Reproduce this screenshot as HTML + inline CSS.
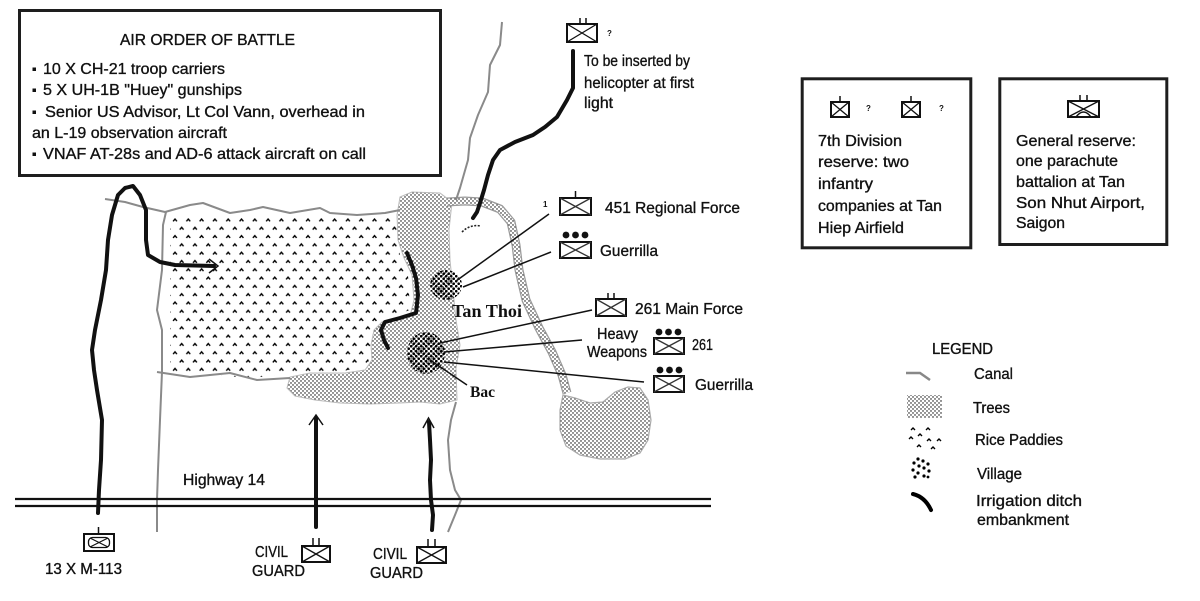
<!DOCTYPE html>
<html><head><meta charset="utf-8">
<style>
html,body{margin:0;padding:0;background:#fff;}
svg{display:block;}
text{font-family:"Liberation Sans",Arial,sans-serif;font-size:15.5px;fill:#111;stroke:#111;stroke-width:0.35px;}
.t16{font-size:16px;}
.serif{font-family:"Liberation Serif",serif;font-weight:bold;stroke-width:0;}
.sm{font-size:8px;font-weight:bold;stroke-width:0;}
</style></head><body>
<svg width="1200" height="601" viewBox="0 0 1200 601" xmlns="http://www.w3.org/2000/svg">
<defs>
<pattern id="trees" patternUnits="userSpaceOnUse" width="4" height="4">
 <circle cx="1" cy="1" r="0.72" fill="#000"/>
 <circle cx="3" cy="3" r="0.72" fill="#000"/>
</pattern>
<pattern id="rice" patternUnits="userSpaceOnUse" x="172" y="216" width="13.3" height="16.6">
 <path d="M1.1,5.3 L3,3.1 L4.9,5.3 M7.75,13.6 L9.65,11.4 L11.55,13.6" fill="none" stroke="#000" stroke-width="1.45"/>
</pattern>
<pattern id="vil" patternUnits="userSpaceOnUse" width="5" height="5">
 <circle cx="1.2" cy="1.2" r="1.3" fill="#000"/>
 <circle cx="3.7" cy="3.7" r="1.3" fill="#000"/>
</pattern>
</defs>

<!-- ===== Top-left box ===== -->
<rect x="19.5" y="10.5" width="421" height="165" fill="none" stroke="#1e1e1e" stroke-width="3"/>
<text class="t16" x="120" y="45" textLength="175" lengthAdjust="spacingAndGlyphs">AIR ORDER OF BATTLE</text>
<rect x="32.5" y="67.5" width="3.5" height="3.5" fill="#111"/>
<text class="t16" x="43" y="74" textLength="182" lengthAdjust="spacingAndGlyphs">10 X CH-21 troop carriers</text>
<rect x="32.5" y="88.5" width="3.5" height="3.5" fill="#111"/>
<text class="t16" x="43" y="95" textLength="199" lengthAdjust="spacingAndGlyphs">5 X UH-1B "Huey" gunships</text>
<rect x="32.5" y="110.5" width="3.5" height="3.5" fill="#111"/>
<text class="t16" x="45" y="117" textLength="320" lengthAdjust="spacingAndGlyphs">Senior US Advisor, Lt Col Vann, overhead in</text>
<text class="t16" x="32" y="138" textLength="195" lengthAdjust="spacingAndGlyphs">an L-19 observation aircraft</text>
<rect x="32.5" y="152.5" width="3.5" height="3.5" fill="#111"/>
<text class="t16" x="43" y="159" textLength="323" lengthAdjust="spacingAndGlyphs">VNAF AT-28s and AD-6 attack aircraft on call</text>

<!-- ===== Right boxes ===== -->
<rect x="802.2" y="78.8" width="168.6" height="169" fill="none" stroke="#1e1e1e" stroke-width="3"/>
<g stroke="#111" fill="none">
 <rect x="831" y="102" width="18" height="15" stroke-width="2"/>
 <path d="M831,102 L849,117 M849,102 L831,117" stroke-width="1.3"/>
 <line x1="840" y1="96" x2="840" y2="102" stroke-width="1.5"/>
 <rect x="902" y="102" width="18" height="15" stroke-width="2"/>
 <path d="M902,102 L920,117 M920,102 L902,117" stroke-width="1.3"/>
 <line x1="911" y1="96" x2="911" y2="102" stroke-width="1.5"/>
</g>
<text class="sm" x="866" y="111">?</text>
<text class="sm" x="939" y="111">?</text>
<text x="818" y="146" textLength="84" lengthAdjust="spacingAndGlyphs">7th Division</text>
<text x="818" y="167" textLength="91" lengthAdjust="spacingAndGlyphs">reserve: two</text>
<text x="818" y="189" textLength="55" lengthAdjust="spacingAndGlyphs">infantry</text>
<text x="818" y="211" textLength="124" lengthAdjust="spacingAndGlyphs">companies at Tan</text>
<text x="818" y="233" textLength="86" lengthAdjust="spacingAndGlyphs">Hiep Airfield</text>

<rect x="999.8" y="78.8" width="167" height="165.7" fill="none" stroke="#1e1e1e" stroke-width="3"/>
<g stroke="#111" fill="none">
 <rect x="1068" y="101" width="31" height="16" stroke-width="2"/>
 <path d="M1068,101 L1099,117 M1099,101 L1068,117" stroke-width="1.3"/>
 <path d="M1076,117 Q1083.5,107 1091,117" stroke-width="1.5"/>
 <line x1="1080" y1="95" x2="1080" y2="101" stroke-width="1.5"/>
 <line x1="1087" y1="95" x2="1087" y2="101" stroke-width="1.5"/>
</g>
<text x="1016" y="146" textLength="120" lengthAdjust="spacingAndGlyphs">General reserve:</text>
<text x="1016" y="166" textLength="102" lengthAdjust="spacingAndGlyphs">one parachute</text>
<text x="1016" y="187" textLength="109" lengthAdjust="spacingAndGlyphs">battalion at Tan</text>
<text x="1016" y="208" textLength="129" lengthAdjust="spacingAndGlyphs">Son Nhut Airport,</text>
<text x="1016" y="228" textLength="49" lengthAdjust="spacingAndGlyphs">Saigon</text>

<!-- ===== Legend ===== -->
<text x="932" y="354" textLength="61" lengthAdjust="spacingAndGlyphs">LEGEND</text>
<path d="M906,373 L920,373 L930,380" fill="none" stroke="#888" stroke-width="2.5"/>
<text x="974" y="379" textLength="39" lengthAdjust="spacingAndGlyphs">Canal</text>
<rect x="907" y="395" width="35" height="23" fill="url(#trees)"/>
<text x="973" y="413" textLength="37" lengthAdjust="spacingAndGlyphs">Trees</text>
<g fill="none" stroke="#000" stroke-width="1.4">
 <path d="M911,430 L913,428 L915,430 M926,430 L928,428 L930,430 M909,439 L911,437 L913,439 M918,436 L920,434 L922,436 M927,441 L929,439 L931,441 M937,441 L939,439 L941,441 M917,447 L919,445 L921,447 M931,449 L933,447 L935,449"/>
</g>
<text x="975" y="445" textLength="88" lengthAdjust="spacingAndGlyphs">Rice Paddies</text>
<g fill="#000">
 <circle cx="918" cy="459" r="1.6"/><circle cx="923" cy="461" r="1.6"/>
 <circle cx="914" cy="463" r="1.6"/><circle cx="928" cy="464" r="1.6"/>
 <circle cx="919" cy="466" r="1.6"/><circle cx="924" cy="468" r="1.6"/>
 <circle cx="913" cy="470" r="1.6"/><circle cx="929" cy="471" r="1.6"/>
 <circle cx="918" cy="473" r="1.6"/><circle cx="924" cy="476" r="1.6"/>
 <circle cx="915" cy="477" r="1.6"/><circle cx="928" cy="477" r="1.4"/>
</g>
<text x="977" y="479" textLength="45" lengthAdjust="spacingAndGlyphs">Village</text>
<path d="M913,494 Q925,497 931,510" fill="none" stroke="#000" stroke-width="4" stroke-linecap="round"/>
<text x="976" y="506" textLength="106" lengthAdjust="spacingAndGlyphs">Irrigation ditch</text>
<text x="977" y="525" textLength="92" lengthAdjust="spacingAndGlyphs">embankment</text>

<!-- ===== Map: rice paddies ===== -->
<path d="M170,218 L395,218 L400,255 L408,275 L410,310 L380,320 L372,335 L368,365 L340,372 L290,374 L250,378 L200,374 L170,372 Z" fill="url(#rice)"/>

<!-- trees main -->
<path d="M400,197 L412,192 L440,193 L452,202 L449,230 L450,260 L453,290 L456,320 L460,345 L456,368 L457,400 L440,404 L420,402 L400,403 L370,404 L340,403 L315,400 L295,396 L287,388 L290,377 L310,373 L345,373 L365,370 L372,360 L371,345 L374,330 L382,322 L410,316 L414,300 L412,275 L404,258 L398,240 L397,215 Z" fill="url(#trees)" stroke="#bbb" stroke-width="1"/>

<!-- dotted canal band -->
<path d="M447,202 L465,201 L482,202 L500,209 L511,222 L516,245 L519,270 L526,300 L539,328 L552,352 L562,375 L567,393" stroke="#9a9a9a" stroke-width="9" fill="none" stroke-linejoin="round"/>
<path d="M447,202 L465,201 L482,202 L500,209 L511,222 L516,245 L519,270 L526,300 L539,328 L552,352 L562,375 L567,393" stroke="#fff" stroke-width="6.5" fill="none" stroke-linejoin="round"/>
<path d="M447,202 L465,201 L482,202 L500,209 L511,222 L516,245 L519,270 L526,300 L539,328 L552,352 L562,375 L567,393" stroke="url(#trees)" stroke-width="6.5" fill="none" stroke-linejoin="round"/>

<!-- blob -->
<path d="M563,395 L575,398 L590,403 L603,402 L615,392 L628,387 L640,388 L648,400 L651,420 L648,440 L640,453 L625,459 L600,459 L580,455 L566,446 L560,430 L560,410 Z" fill="url(#trees)" stroke="#aaa" stroke-width="1.2"/>

<!-- gray canals -->
<g fill="none" stroke="#8a8a8a" stroke-width="2" stroke-linejoin="round">
 <path d="M105,199 L125,202 L143,207 L165,212 L190,205 L203,203 L230,213 L250,210 L263,207 L290,213 L320,208 L330,213 L357,215 L385,213 L400,210"/>
 <path d="M166,212 L163,225 L162,270 L157,310 L162,330 L162,372 L160,420 L158,470 L157,500 L157,532"/>
 <path d="M157,372 L190,377 L230,373 L257,380 L290,378"/>
 <path d="M502,22 L500,45 L490,65 L488,92 L478,115 L470,138 L468,160 L460,188 L456,200"/>
 <path d="M456,402 L451,420 L448,440 L450,470 L455,490 L461,500 L455,515 L448,532"/>
</g>

<!-- villages -->
<ellipse cx="446" cy="285" rx="16" ry="15" fill="url(#vil)"/>
<ellipse cx="426" cy="353" rx="19" ry="21" fill="url(#vil)"/>

<!-- thick routes -->
<g fill="none" stroke="#111" stroke-width="4" stroke-linejoin="round" stroke-linecap="round">
 <path d="M98,513 L99,490 L101,460 L102,420 L97,390 L94,370 L92,350 L95,330 L101,300 L106,270 L108,240 L112,215 L118,195 L125,188 L133,186 L140,195 L146,210 L146,240 L148,255 L160,262 L175,265 L214,266"/>
 <path d="M407,253 L412,265 L416,278 L418,295 L416,313 L400,318 L385,322 L381,330 L384,340 L388,348"/>
 <path d="M573,51 L573,88 L567,100 L557,117 L545,127 L533,135 L515,142 L500,150 L493,160 L488,175 L484,190 L480,203 L477,212 L473,218"/>
 <path d="M316,527 L316,418"/>
 <path d="M432,530 L433,515 L431,500 L430,480 L431,460 L430,440 L429,422"/>
</g>
<path d="M462,232 Q470,224 481,226" fill="none" stroke="#222" stroke-width="1.6" stroke-dasharray="2,1.5"/>
<g fill="none" stroke="#111" stroke-width="1.5">
 <path d="M209,259 L218,266 L209,273"/>
 <path d="M309,425 L316,415 L323,425"/>
 <path d="M423,428 L428.5,418 L434,428"/>
</g>

<!-- highway -->
<line x1="15" y1="499" x2="711" y2="499" stroke="#111" stroke-width="2.2"/>
<line x1="15" y1="506" x2="711" y2="506" stroke="#111" stroke-width="2.2"/>
<text x="183" y="485" textLength="82" lengthAdjust="spacingAndGlyphs">Highway 14</text>

<!-- leader lines -->
<g stroke="#111" stroke-width="1.5" fill="none">
 <line x1="456" y1="281" x2="549" y2="214"/>
 <line x1="463" y1="287" x2="551" y2="252"/>
 <line x1="440" y1="343" x2="592" y2="310"/>
 <line x1="444" y1="352" x2="582" y2="340"/>
 <line x1="444" y1="362" x2="644" y2="382"/>
 <line x1="430" y1="360" x2="467" y2="385"/>
</g>

<!-- units on map -->
<g stroke="#111" fill="none">
 <rect x="567" y="24" width="30" height="18" stroke-width="2"/>
 <path d="M567,24 L597,42 M597,24 L567,42" stroke-width="1.3"/>
 <line x1="580" y1="18" x2="580" y2="24" stroke-width="1.5"/>
 <line x1="586" y1="18" x2="586" y2="24" stroke-width="1.5"/>
 <rect x="560" y="198" width="31" height="17" stroke-width="2"/>
 <path d="M560,198 L591,215 M591,198 L560,215" stroke-width="1.3" stroke="#333"/>
 <line x1="575.5" y1="191" x2="575.5" y2="198" stroke-width="1.5"/>
 <rect x="560" y="242" width="31" height="16" stroke-width="2"/>
 <path d="M560,242 L591,258 M591,242 L560,258" stroke-width="1.3" stroke="#333"/>
 <rect x="596" y="299" width="30" height="17" stroke-width="2"/>
 <path d="M596,299 L626,316 M626,299 L596,316" stroke-width="1.3" stroke="#333"/>
 <line x1="608" y1="293" x2="608" y2="299" stroke-width="1.5"/>
 <line x1="614" y1="293" x2="614" y2="299" stroke-width="1.5"/>
 <rect x="654" y="338" width="30" height="16" stroke-width="2"/>
 <path d="M654,338 L684,354 M684,338 L654,354" stroke-width="1.3" stroke="#333"/>
 <rect x="654" y="376" width="30" height="16" stroke-width="2"/>
 <path d="M654,376 L684,392 M684,376 L654,392" stroke-width="1.3" stroke="#333"/>
 <rect x="84" y="534" width="30" height="17" stroke-width="2"/>
 <rect x="88.5" y="537.5" width="21" height="10" rx="4" stroke-width="1.3"/>
 <path d="M90,538 L108,547 M108,538 L90,547" stroke-width="1.2"/>
 <line x1="98.5" y1="527" x2="98.5" y2="534" stroke-width="1.5"/>
 <rect x="302" y="546" width="28" height="16" stroke-width="2"/>
 <path d="M302,546 L330,562 M330,546 L302,562" stroke-width="1.3"/>
 <line x1="313" y1="538" x2="313" y2="546" stroke-width="1.5"/>
 <line x1="319" y1="538" x2="319" y2="546" stroke-width="1.5"/>
 <rect x="417" y="547" width="29" height="16" stroke-width="2"/>
 <path d="M417,547 L446,563 M446,547 L417,563" stroke-width="1.3"/>
 <line x1="428" y1="539" x2="428" y2="547" stroke-width="1.5"/>
 <line x1="435" y1="539" x2="435" y2="547" stroke-width="1.5"/>
</g>
<g fill="#111">
 <circle cx="566" cy="235" r="3.4"/><circle cx="575.5" cy="235" r="3.4"/><circle cx="585" cy="235" r="3.4"/>
 <circle cx="659" cy="332" r="3.4"/><circle cx="668.5" cy="332" r="3.4"/><circle cx="678" cy="332" r="3.4"/>
 <circle cx="660" cy="370" r="3.4"/><circle cx="669.5" cy="370" r="3.4"/><circle cx="679" cy="370" r="3.4"/>
</g>

<!-- map labels -->
<text class="sm" x="607" y="36">?</text>
<text x="584" y="66" textLength="106" lengthAdjust="spacingAndGlyphs">To be inserted by</text>
<text x="584" y="88" textLength="110" lengthAdjust="spacingAndGlyphs">helicopter at first</text>
<text x="584" y="108" textLength="29" lengthAdjust="spacingAndGlyphs">light</text>

<text class="sm" x="543" y="207">1</text>
<text class="t16" x="605" y="213" textLength="135" lengthAdjust="spacingAndGlyphs">451 Regional Force</text>
<text class="t16" x="600" y="256" textLength="58" lengthAdjust="spacingAndGlyphs">Guerrilla</text>
<text class="t16" x="635" y="314" textLength="108" lengthAdjust="spacingAndGlyphs">261 Main Force</text>
<text x="597" y="339" textLength="41" lengthAdjust="spacingAndGlyphs">Heavy</text>
<text x="587" y="357" textLength="60" lengthAdjust="spacingAndGlyphs">Weapons</text>
<text class="t16" x="692" y="350" textLength="21" lengthAdjust="spacingAndGlyphs">261</text>
<text class="t16" x="695" y="390" textLength="58" lengthAdjust="spacingAndGlyphs">Guerrilla</text>

<text class="serif" x="452" y="317" textLength="70" lengthAdjust="spacingAndGlyphs" style="font-size:18px">Tan Thoi</text>
<text class="serif" x="470" y="397" textLength="25" lengthAdjust="spacingAndGlyphs" style="font-size:16px">Bac</text>

<text x="45" y="574" textLength="77" lengthAdjust="spacingAndGlyphs">13 X M-113</text>
<text x="255" y="557" textLength="33" lengthAdjust="spacingAndGlyphs">CIVIL</text>
<text x="252" y="576" textLength="53" lengthAdjust="spacingAndGlyphs">GUARD</text>
<text x="373" y="559" textLength="34" lengthAdjust="spacingAndGlyphs">CIVIL</text>
<text x="370" y="578" textLength="53" lengthAdjust="spacingAndGlyphs">GUARD</text>
</svg>
</body></html>
